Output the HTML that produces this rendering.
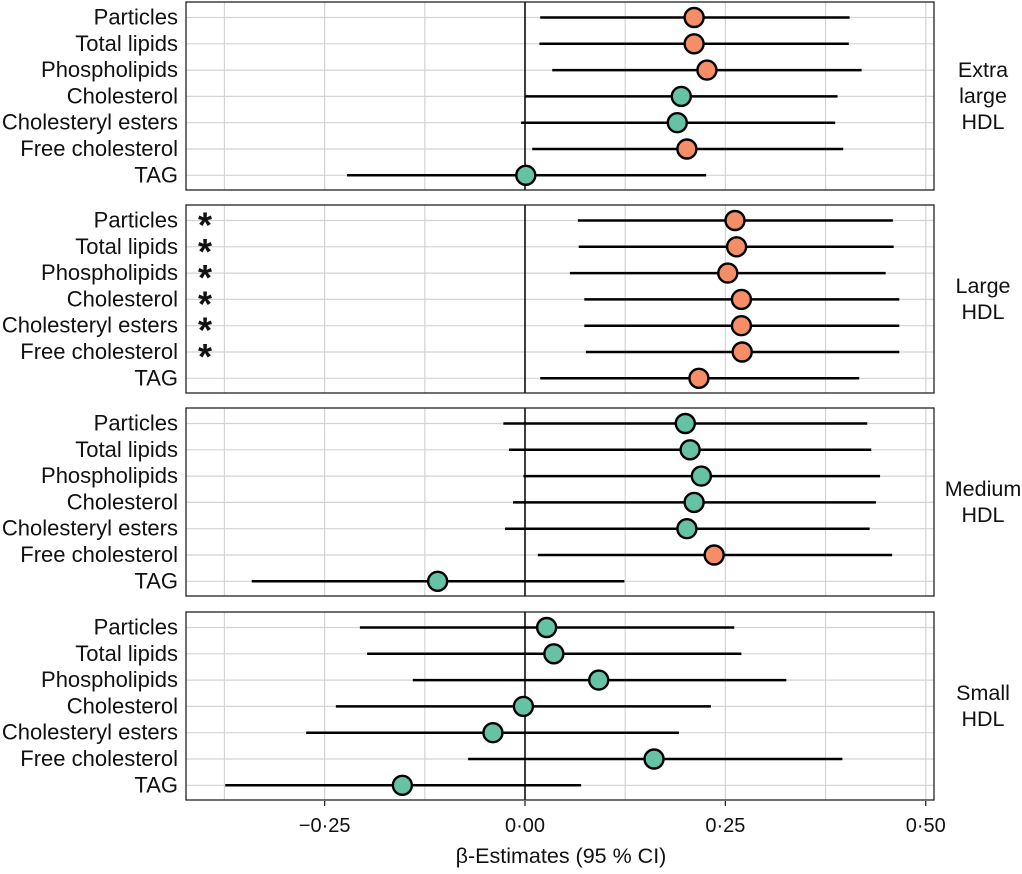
<!DOCTYPE html>
<html><head><meta charset="utf-8"><style>
body{margin:0;background:#fff;}
svg text{font-family:"Liberation Sans",Arial,sans-serif;fill:#111;}
</style></head><body>
<svg id="chart" width="1022" height="869"></svg>
<script>
const rows=["Particles","Total lipids","Phospholipids","Cholesterol","Cholesteryl esters","Free cholesterol","TAG"];
const panels=[["Extra","large","HDL"],["Large","HDL"],["Medium","HDL"],["Small","HDL"]];
const est=[
[0.211,0.211,0.227,0.195,0.190,0.202,0.001],
[0.262,0.264,0.253,0.270,0.270,0.271,0.217],
[0.200,0.206,0.220,0.211,0.202,0.236,-0.109],
[0.027,0.036,0.092,-0.002,-0.040,0.161,-0.153]];
const lo=[
[0.019,0.018,0.034,0.000,-0.005,0.009,-0.222],
[0.066,0.067,0.056,0.074,0.074,0.076,0.019],
[-0.027,-0.020,-0.002,-0.015,-0.025,0.016,-0.341],
[-0.206,-0.197,-0.140,-0.236,-0.273,-0.071,-0.374]];
const hi=[
[0.405,0.404,0.420,0.390,0.387,0.397,0.226],
[0.459,0.460,0.450,0.467,0.467,0.467,0.417],
[0.427,0.432,0.443,0.438,0.430,0.458,0.124],
[0.261,0.270,0.326,0.232,0.192,0.396,0.070]];
const positive=[
[1,1,1,0,0,1,0],
[1,1,1,1,1,1,1],
[0,0,0,0,0,1,0],
[0,0,0,0,0,0,0]];
const stars=[[0,0,0,0,0,0,0],[1,1,1,1,1,1,0],[0,0,0,0,0,0,0],[0,0,0,0,0,0,0]];
const ticks=[-0.25,0,0.25,0.5];
const tickLabels=["\u22120\u00b725","0\u00b700","0\u00b725","0\u00b750"];
const minor=[-0.375,-0.125,0.125,0.375];

const svg=document.getElementById('chart');
const NS="http://www.w3.org/2000/svg";
const X0=186,X1=934;
const x=v=>525+v*801.5;
const panelTop=[2,205,408,612],PH=188;
const rowY=(p,i)=>panelTop[p]+15.5+i*26.3;
function el(t,a,parent){const e=document.createElementNS(NS,t);for(const k in a)e.setAttribute(k,a[k]);(parent||svg).appendChild(e);return e;}
for(let p=0;p<4;p++){
  const g=el('g',{});
  
  
  const top=panelTop[p];
  [...minor,...ticks].forEach(v=>{const l=el('line',{x1:x(v),x2:x(v),y1:top,y2:top+PH,stroke:'#d4d4d4','stroke-width':1.2},g);});
  rows.forEach((r,i)=>{const y=rowY(p,i);
    const l=el('line',{x1:X0,x2:X1,y1:y,y2:y,stroke:'#d4d4d4','stroke-width':1.2},g);
    const t=el('text',{x:178,y:y+7,'text-anchor':'end','font-size':22},g);t.textContent=r;
  });
  const z=el('line',{x1:x(0),x2:x(0),y1:top,y2:top+PH,stroke:'#000','stroke-width':1.5},g);
  rows.forEach((r,i)=>{const y=rowY(p,i);
    const ci=el('line',{x1:x(lo[p][i]),x2:x(hi[p][i]),y1:y,y2:y,stroke:'#000','stroke-width':2.5},g);
    const c=el('circle',{cx:x(est[p][i]),cy:y,r:9.5,fill:positive[p][i]?'#F58D66':'#66C2A5',stroke:'#000','stroke-width':2.4},g);
    if(stars[p][i]){const s=el('text',{x:205,y:y+17,'text-anchor':'middle','font-size':36,'font-weight':'bold'},g);s.textContent='*';}
  });
  const b=el('rect',{x:X0,y:top,width:X1-X0,height:PH,fill:'none',stroke:'#222','stroke-width':1.3},g);
  const lines=panels[p];const cy=top+PH/2;
  lines.forEach((s,k)=>{const t=el('text',{x:983,y:cy+7+(k-(lines.length-1)/2)*26,'text-anchor':'middle','font-size':21.5},g);t.textContent=s;});
}
ticks.forEach((v,i)=>{
  const tk=el('line',{x1:x(v),x2:x(v),y1:801,y2:806,stroke:'#222','stroke-width':1.3});
  const t=el('text',{x:x(v),y:832,'text-anchor':'middle','font-size':20});t.textContent=tickLabels[i];
});
const xt=el('text',{x:561,y:863,'text-anchor':'middle','font-size':21.5});xt.textContent='\u03b2-Estimates (95 % CI)';


</script>
</body></html>
